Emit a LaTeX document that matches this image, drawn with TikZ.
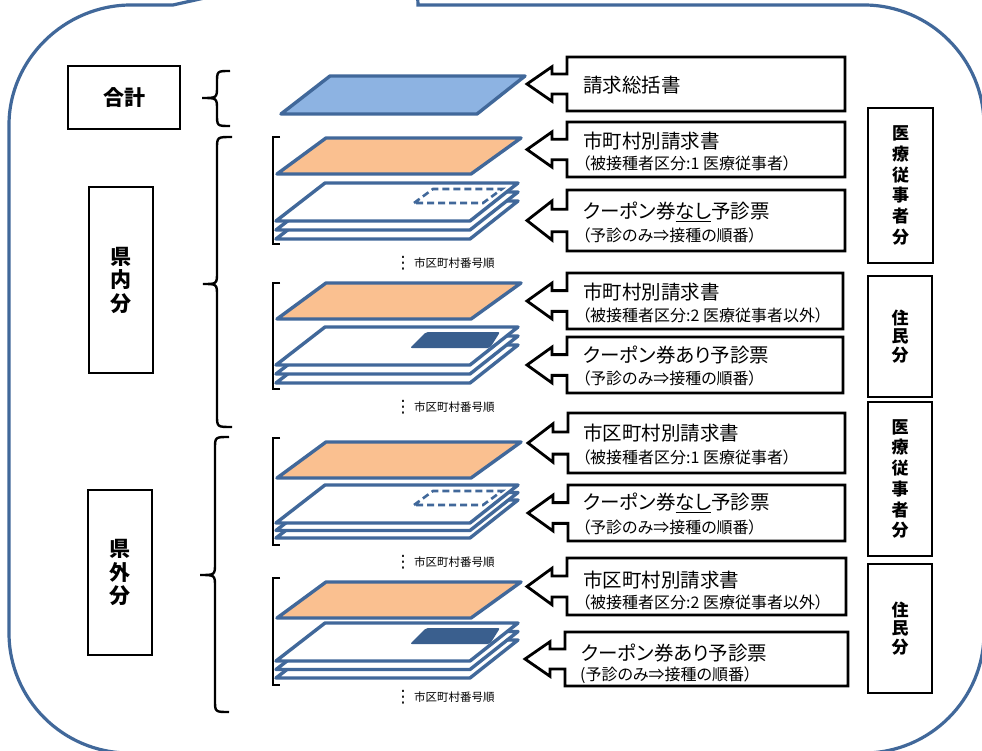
\documentclass[tikz,border=0pt]{standalone}
\usepackage{fontspec}
\setmainfont{Noto Sans CJK JP}[RawFeature=+palt]
\newfontfamily\dejavu{DejaVu Sans}
\definecolor{sblue}{HTML}{41689A}
\definecolor{sorange}{HTML}{FAC090}
\definecolor{slight}{HTML}{8DB3E2}
\definecolor{sdark}{HTML}{3A5F8E}
\tikzset{
  outerline/.style={draw=sblue, line width=3.2pt},
  sheet/.style={draw=sblue, line width=3.4pt, line join=round},
  callline/.style={draw=black, line width=2.8pt},
  bracel/.style={draw=black, line width=2.4pt},
  blackbox/.style={draw=black, line width=2.8pt, inner sep=0pt},
  maintxt/.style={inner sep=0pt, anchor=west, font=\fontsize{19.5}{22}\selectfont},
  subtxt/.style={inner sep=0pt, anchor=west, font=\fontsize{16}{17}\selectfont},
  smalltxt/.style={inner sep=0pt, anchor=west, font=\fontsize{11.5}{12}\selectfont},
  dotstxt/.style={inner sep=0pt, font=\dejavu\fontsize{17}{17}\selectfont},
  lefttxt/.style={font=\bfseries\fontsize{21}{23.5}\selectfont, align=center},
  iryotxt/.style={font=\bfseries\fontsize{17}{20.7}\selectfont, align=center},
  juntxt/.style={font=\bfseries\fontsize{17}{18.5}\selectfont, align=center}
}
% callout: name, left, top, right, bottom
\newcommand{\callbox}[5]{%
  \pgfmathsetmacro{\cbm}{(#3+#5)/2}%
  \pgfmathsetmacro{\cbh}{#5-#3}%
  \pgfmathsetmacro{\cbhh}{0.32*\cbh}%
  \pgfmathsetmacro{\cbsh}{0.185*\cbh}%
  \pgfmathsetmacro{\cbxb}{#2-15}%
  \pgfmathsetmacro{\cbxt}{#2-40}%
  \draw[callline] (#2,#3) coordinate (#1-nw) -- (#4,#3) -- (#4,#5) -- (#2,#5)
    -- (#2,\cbm+\cbsh) -- (\cbxb,\cbm+\cbsh) -- (\cbxb,\cbm+\cbhh)
    -- (\cbxt,\cbm) coordinate (#1-tip) -- (\cbxb,\cbm-\cbhh) -- (\cbxb,\cbm-\cbsh)
    -- (#2,\cbm-\cbsh) -- cycle;
}
% brace: xr, xv, xtip, ytop, ymid, ybot
\newcommand{\bracepath}[6]{%
  \draw[bracel] (#1,#4) .. controls (#2,#4) .. (#2,#4+12) -- (#2,#5-12)
    .. controls (#2,#5) .. (#3,#5) .. controls (#2,#5) .. (#2,#5+12)
    -- (#2,#6-12) .. controls (#2,#6) .. (#1,#6);
}
% stack of three sheets: top y, layer offset
\newcommand{\sheetstack}[2]{%
  \foreach \k in {2,1,0}{%
    \draw[sheet, fill=white, shift={(0,#1+\k*#2)}] (276,38) -- (325,0) -- (518,0) -- (470,38) -- cycle;
  }%
}
\begin{document}
\begin{tikzpicture}[x=1pt, y=-1pt]
\useasboundingbox (0,0) rectangle (982,751);
\fill[white] (0,0) rectangle (982,751);
\begin{scope}
\clip (0,0) rectangle (982,751);
\draw[outerline] (173,5) -- (131,5) .. controls (65,5) and (9,59) .. (9,125)
  -- (9,633) .. controls (9,699) and (63,753) .. (129,753)
  -- (864,753) .. controls (930,753) and (984,699) .. (984,633)
  -- (984,125) .. controls (984,59) and (930,5) .. (864,5)
  -- (418,5) -- (416,-49) -- cycle;
\end{scope}

% left labels
\node[blackbox, minimum width=112, minimum height=63, lefttxt] (gokei) at (124,97.5) {合計};
\node[blackbox, minimum width=64, minimum height=186, lefttxt] (kennai) at (121,280) {県\\内\\分};
\node[blackbox, minimum width=64, minimum height=165, lefttxt] (kengai) at (120,572.5) {県\\外\\分};

% braces
\bracepath{230}{217}{202}{71}{98}{126}
\bracepath{232}{217}{203}{137}{284}{427}
\bracepath{229}{215}{200}{437}{575}{712}

% square brackets
\foreach \yt/\yb in {137/244, 283/389, 438/545, 578/685}{
  \draw[bracel] (280,\yt) -- (273,\yt) -- (273,\yb) -- (280,\yb);
}

% total sheet
\draw[sheet, fill=slight] (281,114) -- (330,76) -- (525,76) -- (477,114) -- cycle;

% orange sheets
\foreach \Y in {138, 283, 442, 582}{
  \draw[sheet, fill=sorange, shift={(0,\Y)}] (277,36) -- (326,0) -- (521,0) -- (471,36) -- cycle;
}

% stacks
\sheetstack{183}{9}
\sheetstack{327}{9}
\sheetstack{485}{7.5}
\sheetstack{623}{8.5}

% dashed coupon marks (none)
\foreach \Y in {183, 485}{
  \draw[draw=sblue, line width=2.6pt, dashed, dash pattern=on 7pt off 4pt, shift={(0,\Y)}]
    (414,20) -- (433,6) -- (502,6) -- (483,20) -- cycle;
}
% filled coupon marks
\foreach \Y in {327, 623}{
  \fill[sdark, rounded corners=2pt, shift={(0,\Y)}]
    (410,21) -- (426,5) -- (500,5) -- (490,21) -- cycle;
}

% order notes
\foreach \n/\Y in {a/263, b/407, c/562, d/697}{
  \node[dotstxt] (dots\n) at (403,\Y) {⋮};
  \node[smalltxt] (order\n) at (414,\Y) {市区町村番号順};
}

% callouts
\callbox{c1}{567}{57}{845}{111}
\callbox{c2}{567}{122}{845}{177}
\callbox{c3}{567}{190}{845}{251}
\callbox{c4}{567}{273}{843}{329}
\callbox{c5}{567}{337}{843}{393}
\callbox{c6}{568}{413}{845}{473}
\callbox{c7}{568}{485}{845}{541}
\callbox{c8}{567}{558}{846}{615}
\callbox{c9}{565}{632}{848}{686}

\node[maintxt] (t1) at (583,85) {請求総括書};
\node[maintxt] (t2) at (583,141) {市町村別請求書};
\node[subtxt] (s2) at (582,163) {（被接種者区分:1 医療従事者）};
\node[maintxt] (t3) at (583,212) {クーポン券\underline{なし}予診票};
\node[subtxt] (s3) at (582,235) {（予診のみ⇒接種の順番）};
\node[maintxt] (t4) at (583,292) {市町村別請求書};
\node[subtxt] (s4) at (582,315) {（被接種者区分:2 医療従事者以外）};
\node[maintxt] (t5) at (583,355) {クーポン券あり予診票};
\node[subtxt] (s5) at (582,378) {（予診のみ⇒接種の順番）};
\node[maintxt] (t6) at (583,433) {市区町村別請求書};
\node[subtxt] (s6) at (582,457) {（被接種者区分:1 医療従事者）};
\node[maintxt] (t7) at (583,503) {クーポン券\underline{なし}予診票};
\node[subtxt] (s7) at (582,527) {（予診のみ⇒接種の順番）};
\node[maintxt] (t8) at (583,580) {市区町村別請求書};
\node[subtxt] (s8) at (582,602) {（被接種者区分:2 医療従事者以外）};
\node[maintxt] (t9) at (581,653) {クーポン券あり予診票};
\node[subtxt] (s9) at (580,675) {(予診のみ⇒接種の順番）};

% right labels
\node[blackbox, minimum width=65, minimum height=155, iryotxt] (r1) at (900.5,185.5) {医\\療\\従\\事\\者\\分};
\node[blackbox, minimum width=64, minimum height=121, juntxt] (r2) at (900,336.5) {住\\民\\分};
\node[blackbox, minimum width=64, minimum height=154, iryotxt] (r3) at (900,479) {医\\療\\従\\事\\者\\分};
\node[blackbox, minimum width=64, minimum height=129, juntxt] (r4) at (900,628.5) {住\\民\\分};
\end{tikzpicture}
\end{document}
